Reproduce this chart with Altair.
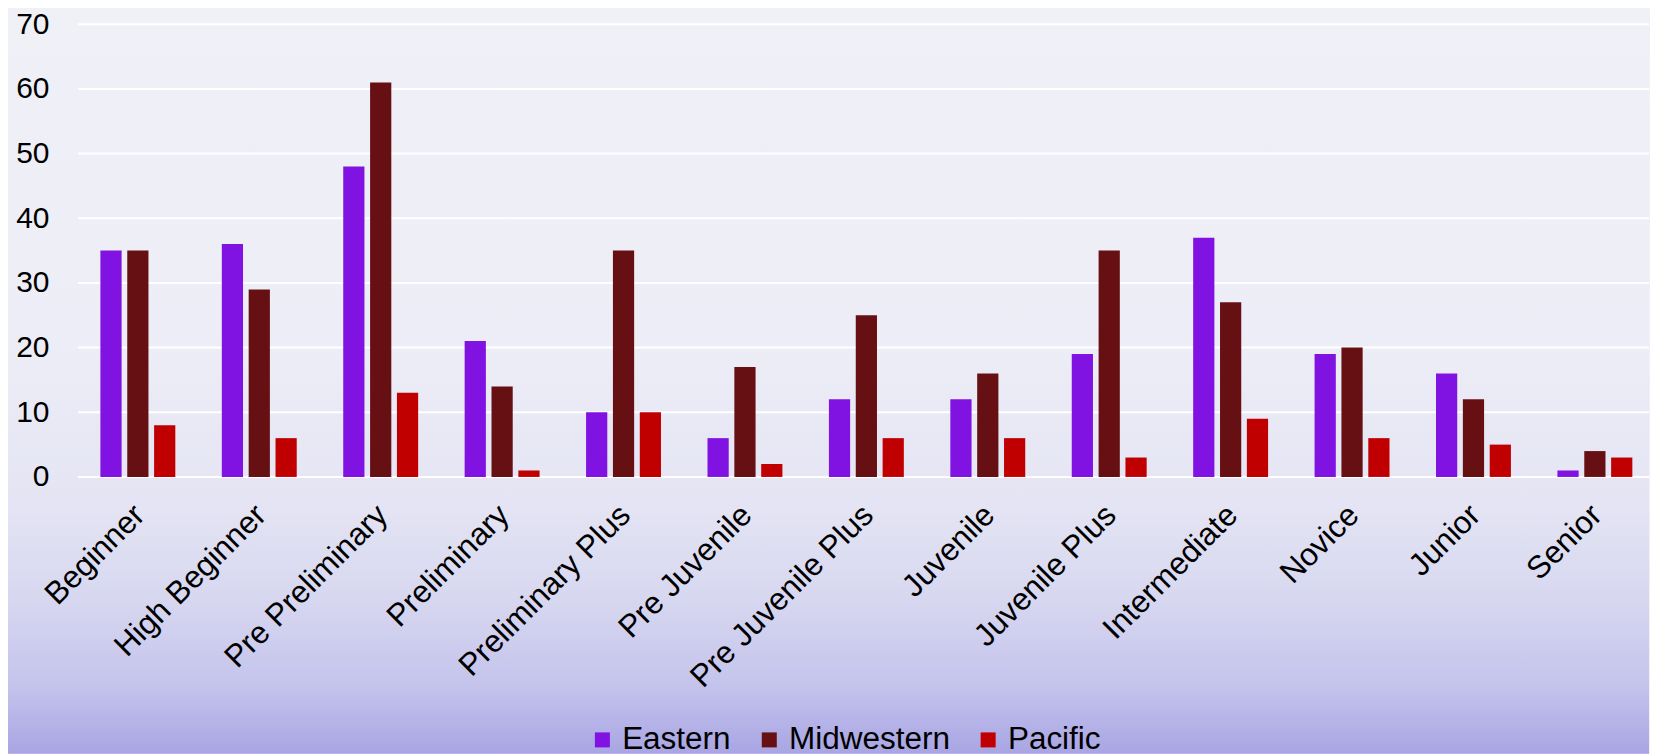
import altair as alt
import pandas as pd

levels = ["Beginner", "High Beginner", "Pre Preliminary", "Preliminary",
          "Preliminary Plus", "Pre Juvenile", "Pre Juvenile Plus", "Juvenile",
          "Juvenile Plus", "Intermediate", "Novice", "Junior", "Senior"]
eastern = [35, 36, 48, 21, 10, 6, 12, 12, 19, 37, 19, 16, 1]
midwestern = [35, 29, 61, 14, 35, 17, 25, 16, 35, 27, 20, 12, 4]
pacific = [8, 6, 13, 1, 10, 2, 6, 6, 3, 9, 6, 5, 3]
regions = ["Eastern", "Midwestern", "Pacific"]
region_colors = ["#8012E2", "#661013", "#C00000"]
y_ticks = [0, 10, 20, 30, 40, 50, 60, 70]

rows = []
for i, lv in enumerate(levels):
    for reg, vals in zip(regions, [eastern, midwestern, pacific]):
        rows.append({"level": lv, "region": reg, "count": vals[i]})
df = pd.DataFrame(rows)

W, H = 1572, 453
FONT = "Liberation Sans"
FS_Y = 30
FS = 31.5

y_scale = alt.Scale(domain=[0, 70])
y_axis = alt.Axis(values=y_ticks, grid=False, domain=False, ticks=False,
                  labelPadding=29, labelFontSize=FS_Y, labelColor="#000000",
                  title=None, zindex=1)

grad = alt.LinearGradient(
    gradient="linear", x1=0, x2=0, y1=0, y2=1,
    stops=[
        alt.GradientStop(offset=0.0, color="#F0F1F7"),
        alt.GradientStop(offset=0.46, color="#ECEDF6"),
        alt.GradientStop(offset=0.67, color="#E4E4F4"),
        alt.GradientStop(offset=0.80, color="#D6D6F0"),
        alt.GradientStop(offset=0.91, color="#C4C3EC"),
        alt.GradientStop(offset=1.0, color="#A8A5E3"),
    ],
)

bg = alt.Chart(pd.DataFrame({"a": [0]})).mark_rect(fill=grad, strokeWidth=0).encode(
    x=alt.value(-70), x2=alt.value(W), y=alt.value(-16), y2=alt.value(730)
)

grid = alt.Chart(pd.DataFrame({"v": y_ticks})).mark_rule(
    color="#FFFFFF", strokeWidth=2
).encode(y=alt.Y("v:Q", scale=y_scale, axis=y_axis))

bars = alt.Chart(df).mark_bar().encode(
    x=alt.X("level:N", sort=levels,
            scale=alt.Scale(paddingInner=0.383, paddingOuter=0.161, align=0.574),
            axis=alt.Axis(labelAngle=-45, labelAlign="right", labelBaseline="top",
                          labelFontSize=FS, labelColor="#000000",
                          labelLimit=400, domain=False, ticks=False,
                          labelPadding=22, labelOffset=-9, title=None, zindex=1)),
    xOffset=alt.XOffset("region:N", sort=regions,
                        scale=alt.Scale(paddingInner=0.21, paddingOuter=0)),
    y=alt.Y("count:Q", scale=y_scale, axis=y_axis),
    color=alt.Color("region:N", sort=regions,
                    scale=alt.Scale(domain=regions, range=region_colors),
                    legend=alt.Legend(orient="none", legendX=509, legendY=700,
                                      direction="horizontal", title=None,
                                      symbolType="square", symbolSize=225,
                                      symbolStrokeWidth=0, labelFontSize=FS,
                                      labelColor="#000000", labelOffset=4,
                                      labelLimit=400,
                                      columnPadding=22, padding=0)),
)

chart = alt.layer(bg, grid, bars).properties(
    width=W, height=H, padding=0, background="#F0F1F7"
).configure(font=FONT).configure_view(strokeWidth=0)

chart.save("out.html", embed_options={"renderer": "svg", "actions": False})
